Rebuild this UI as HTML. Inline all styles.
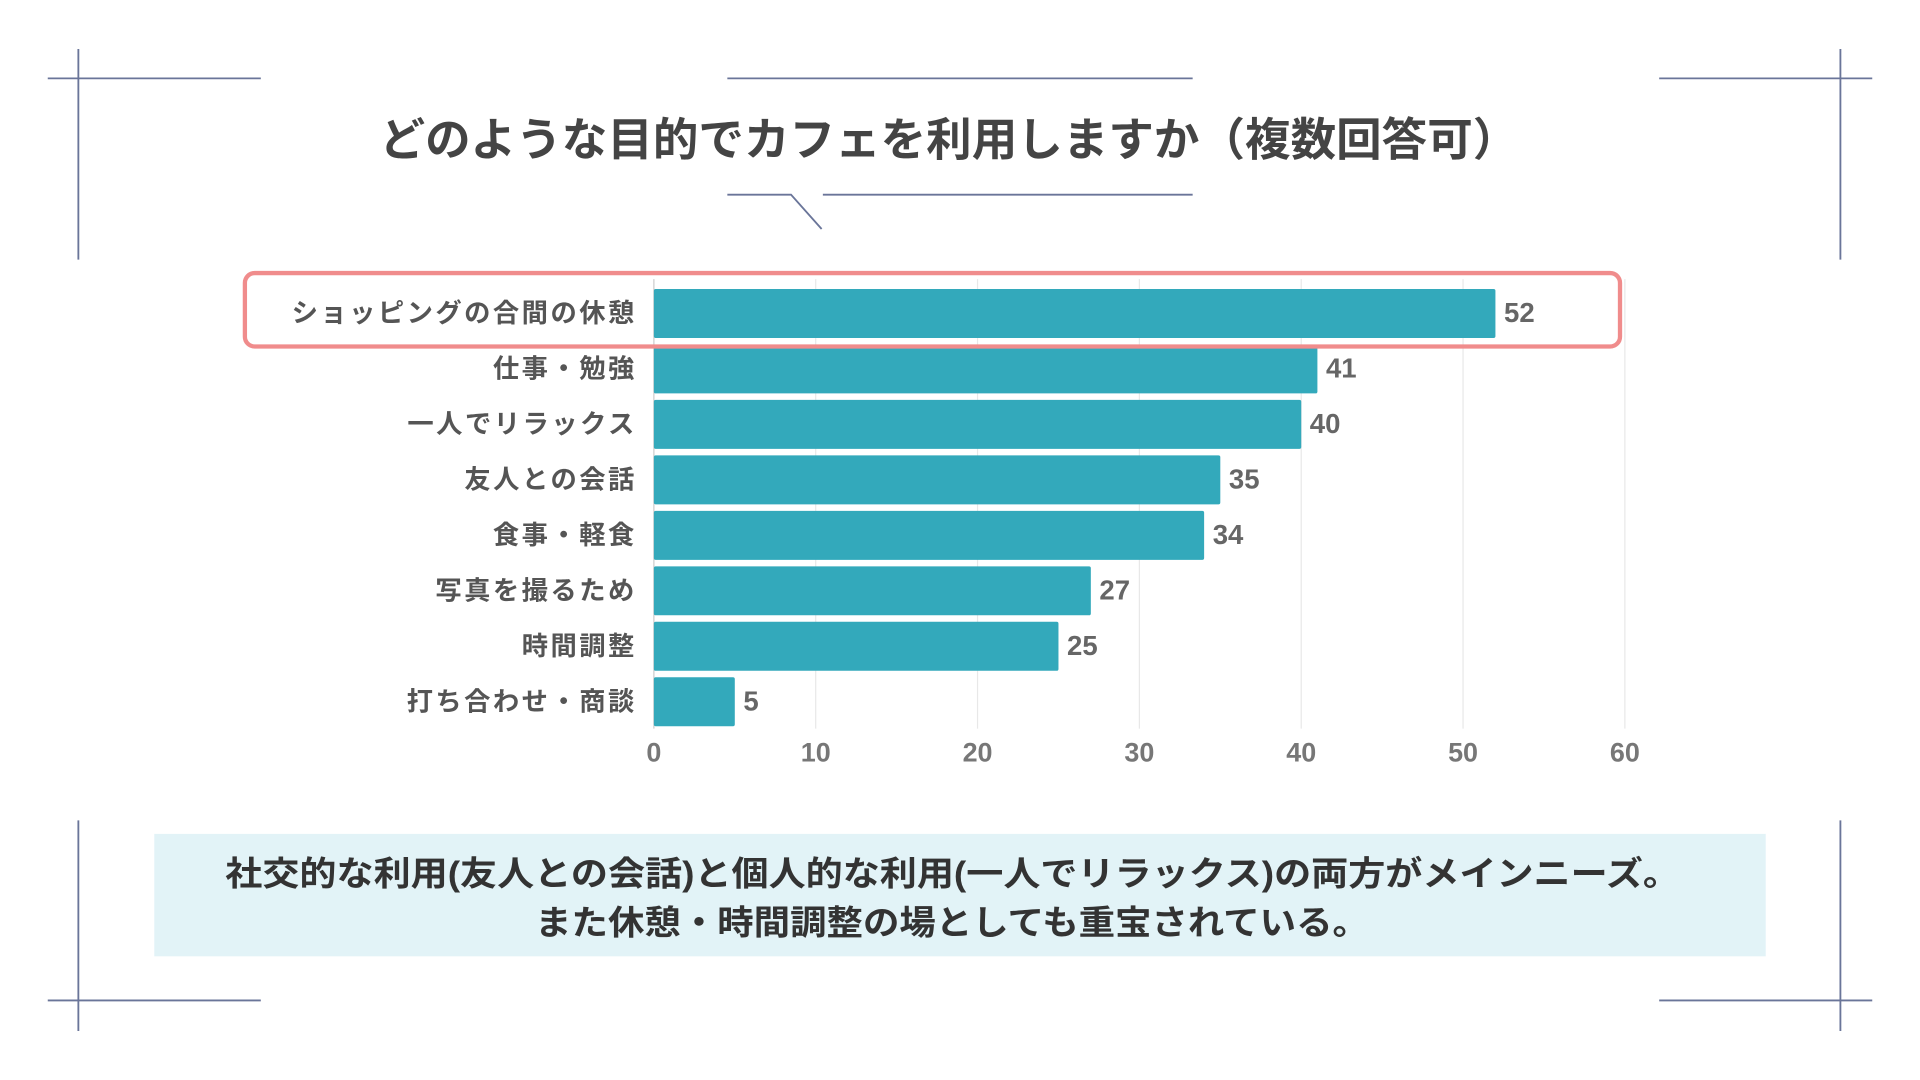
<!DOCTYPE html>
<html><head><meta charset="utf-8"><style>
html,body{margin:0;padding:0;background:#fff;}
svg{display:block;font-family:"Liberation Sans","Noto Sans CJK JP",sans-serif;}
</style></head><body>
<svg id="chart" width="1920" height="1080" viewBox="0 0 1568 882" xmlns="http://www.w3.org/2000/svg">
<g stroke="#6a7599" stroke-width="1.5" fill="none">
<line x1="39" y1="64" x2="213" y2="64"/><line x1="64" y1="40" x2="64" y2="212"/>
<line x1="1355" y1="64" x2="1529" y2="64"/><line x1="1503" y1="40" x2="1503" y2="212"/>
<line x1="39" y1="817" x2="213" y2="817"/><line x1="64" y1="670" x2="64" y2="842"/>
<line x1="1355" y1="817" x2="1529" y2="817"/><line x1="1503" y1="670" x2="1503" y2="842"/>
<line x1="594" y1="64" x2="974" y2="64"/>
<polyline points="594,159 646,159 671,187"/><line x1="672" y1="159" x2="974" y2="159"/>
</g>
<text x="310" y="127" textLength="930" lengthAdjust="spacingAndGlyphs" font-size="37" font-weight="bold" fill="#444">どのような目的でカフェを利用しますか（複数回答可）</text>
<g id="grid"></g>
<g id="bars"></g>
<rect x="200" y="223" width="1123" height="60" rx="8" fill="none" stroke="#f08c8c" stroke-width="3.5"/>
<rect x="126" y="681" width="1316" height="100" fill="#e2f3f7"/>
<text x="184" y="723" textLength="1188" lengthAdjust="spacingAndGlyphs" font-size="28" font-weight="bold" fill="#333">社交的な利用(友人との会話)と個人的な利用(一人でリラックス)の両方がメインニーズ。</text>
<text x="437" y="763" textLength="681" lengthAdjust="spacingAndGlyphs" font-size="28" font-weight="bold" fill="#333">また休憩・時間調整の場としても重宝されている。</text>
</svg>
<script>
const categories=["ショッピングの合間の休憩","仕事・勉強","一人でリラックス","友人との会話","食事・軽食","写真を撮るため","時間調整","打ち合わせ・商談"];
const values=[52,41,40,35,34,27,25,5];
const ticks=[0,10,20,30,40,50,60];
const NS="http://www.w3.org/2000/svg";
const x=v=>534+(v/60)*(1327-534);
const bandTop=i=>236+i*45.3;
const bh=40;
const grid=document.getElementById('grid'),bars=document.getElementById('bars');
function mk(tag,attrs,txt){const e=document.createElementNS(NS,tag);for(const k in attrs)e.setAttribute(k,attrs[k]);if(txt!==undefined)e.textContent=txt;return e;}
ticks.forEach(t=>{
 const l=mk('line',{x1:x(t),x2:x(t),y1:228,y2:595,stroke:t===0?'#ccc':'#e8e8e8','stroke-width':1});
 
 
 grid.appendChild(l);
 const tx=mk('text',{x:x(t),y:622,'text-anchor':'middle','font-size':22,'font-weight':'bold',fill:'#777'},t);
 
 
 grid.appendChild(tx);
});
categories.forEach((c,i)=>{
 const y=bandTop(i);
 const r=mk('rect',{x:x(0),y:y,width:x(values[i])-x(0),height:bh,fill:'#33a9bb',rx:1.5});
 
 
 bars.appendChild(r);
 const lb=mk('text',{x:520,y:y+bh/2+7,'text-anchor':'end','font-size':21.5,'letter-spacing':2,'font-weight':'bold',fill:'#555'},c);
 
 
 bars.appendChild(lb);
 const vl=mk('text',{x:x(values[i])+7,y:y+bh/2+7,'font-size':22.5,'font-weight':'bold',fill:'#666'},values[i]);
 
 
 bars.appendChild(vl);
});
</script>
</body></html>
